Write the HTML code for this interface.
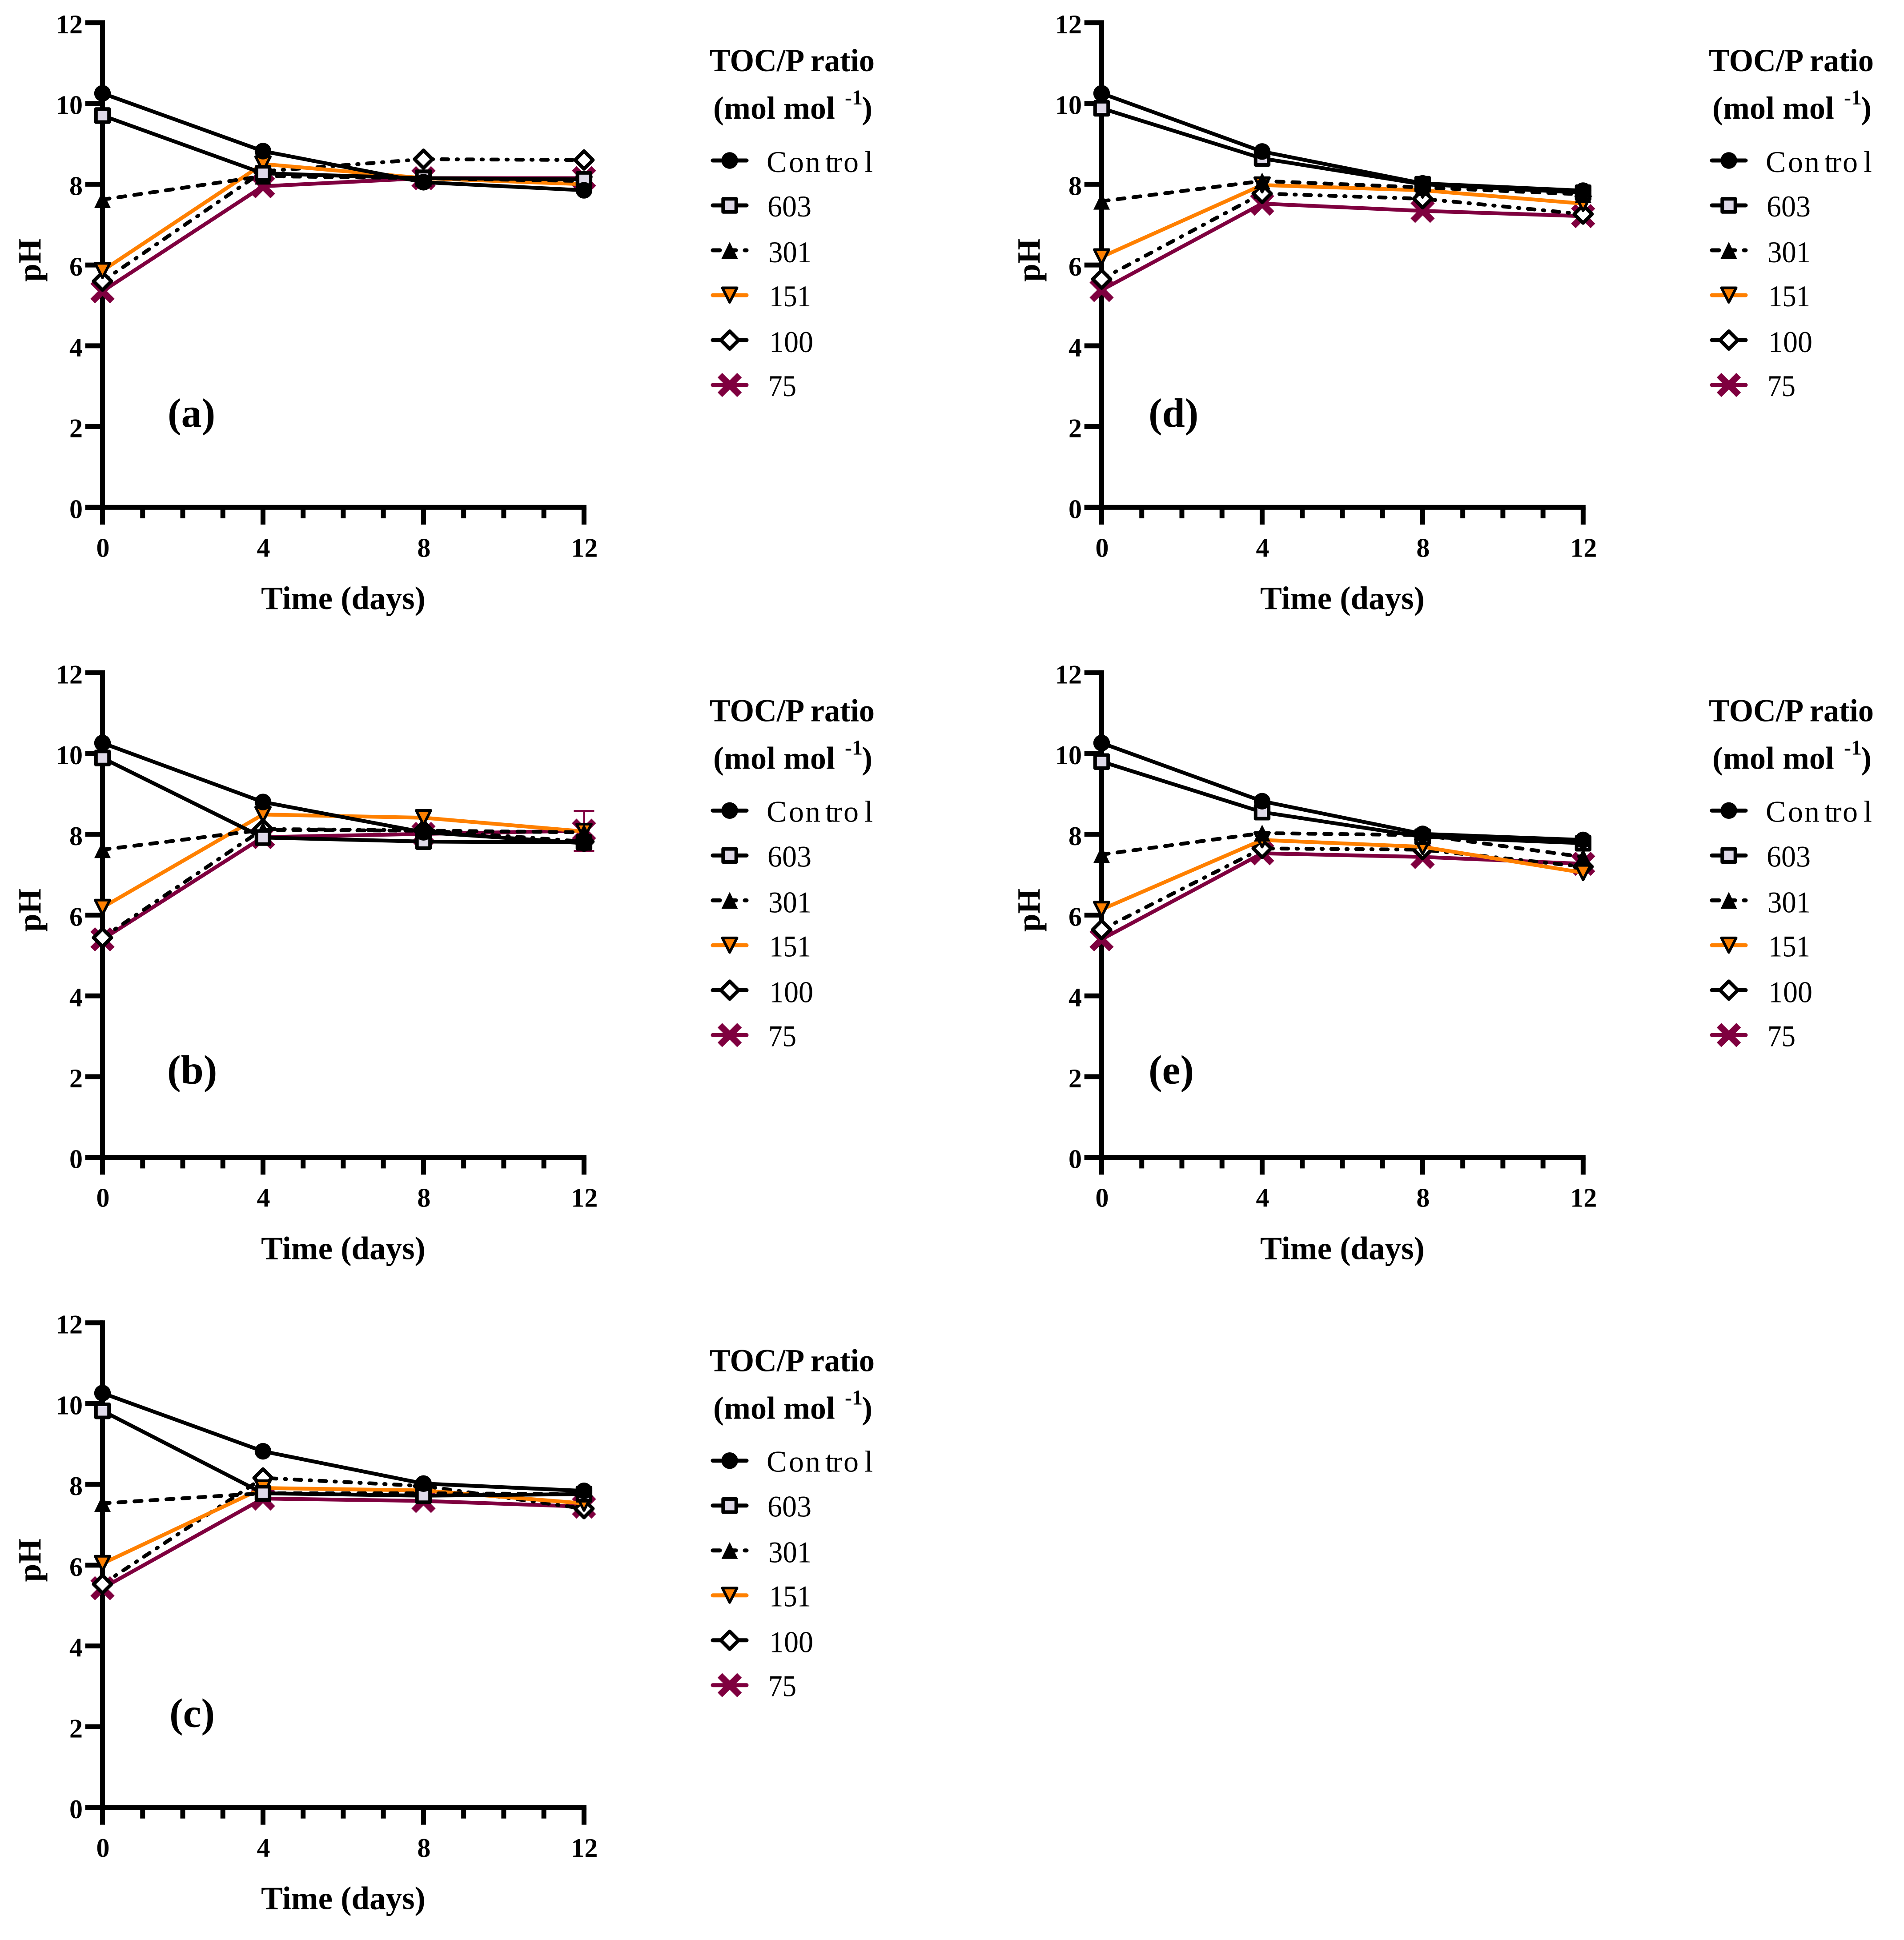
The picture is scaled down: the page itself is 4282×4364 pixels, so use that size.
<!DOCTYPE html>
<html lang="en">
<head>
<meta charset="utf-8">
<title>pH over time by TOC/P ratio</title>
<style>
html,body{margin:0;padding:0;background:#fff;}
svg{display:block;}
text{font-family:"Liberation Serif",serif;fill:#000;}
.tick{font-size:60px;font-weight:bold;}
.axt{font-size:73px;font-weight:bold;}
.pl{font-size:92px;font-weight:bold;}
.lt{font-size:72px;font-weight:bold;}
.ls{font-size:48px;font-weight:bold;}
.le{font-size:68px;}
</style>
</head>
<body>
<svg id="figure" xmlns="http://www.w3.org/2000/svg" width="4282" height="4364" viewBox="0 0 4282 4364">
<rect x="0" y="0" width="4282" height="4364" fill="#fff"/>

<g id="panel-a" transform="translate(0,0)">
  <text class="axt" text-anchor="middle" transform="translate(91,585) rotate(-90)">pH</text>
  <text class="axt" text-anchor="middle" x="772" y="1370">Time (days)</text>
  <text class="pl" x="377" y="960">(a)</text>
  <text class="lt" x="1596" y="160" textLength="371" lengthAdjust="spacingAndGlyphs">TOC/P ratio</text>
  <text class="lt" x="1604" y="267">(mol mol <tspan class="ls" x="1900" y="235">-1</tspan><tspan x="1938" y="267">)</tspan></text>
  <text class="le" x="1724 1774 1811 1856 1872 1897 1944" y="387">Control</text>
  <text class="le" x="1726" y="487" textLength="99" lengthAdjust="spacingAndGlyphs">603</text>
  <text class="le" x="1728" y="590" textLength="97" lengthAdjust="spacingAndGlyphs">301</text>
  <text class="le" x="1730" y="689" textLength="94" lengthAdjust="spacingAndGlyphs">151</text>
  <text class="le" x="1730" y="792" textLength="99" lengthAdjust="spacingAndGlyphs">100</text>
  <text class="le" x="1728" y="891" textLength="63" lengthAdjust="spacingAndGlyphs">75</text>
</g>

<g id="panel-b" transform="translate(0,1462.35)">
  <text class="axt" text-anchor="middle" transform="translate(91,585) rotate(-90)">pH</text>
  <text class="axt" text-anchor="middle" x="772" y="1370">Time (days)</text>
  <text class="pl" x="376" y="975">(b)</text>
  <text class="lt" x="1596" y="160" textLength="371" lengthAdjust="spacingAndGlyphs">TOC/P ratio</text>
  <text class="lt" x="1604" y="267">(mol mol <tspan class="ls" x="1900" y="235">-1</tspan><tspan x="1938" y="267">)</tspan></text>
  <text class="le" x="1724 1774 1811 1856 1872 1897 1944" y="386">Control</text>
  <text class="le" x="1726" y="487" textLength="99" lengthAdjust="spacingAndGlyphs">603</text>
  <text class="le" x="1728" y="590" textLength="97" lengthAdjust="spacingAndGlyphs">301</text>
  <text class="le" x="1730" y="689" textLength="94" lengthAdjust="spacingAndGlyphs">151</text>
  <text class="le" x="1730" y="792" textLength="99" lengthAdjust="spacingAndGlyphs">100</text>
  <text class="le" x="1728" y="891" textLength="63" lengthAdjust="spacingAndGlyphs">75</text>
</g>

<g id="panel-c" transform="translate(0,2924.7)">
  <text class="axt" text-anchor="middle" transform="translate(91,585) rotate(-90)">pH</text>
  <text class="axt" text-anchor="middle" x="772" y="1370">Time (days)</text>
  <text class="pl" x="381" y="960">(c)</text>
  <text class="lt" x="1596" y="160" textLength="371" lengthAdjust="spacingAndGlyphs">TOC/P ratio</text>
  <text class="lt" x="1604" y="267">(mol mol <tspan class="ls" x="1900" y="235">-1</tspan><tspan x="1938" y="267">)</tspan></text>
  <text class="le" x="1724 1774 1811 1856 1872 1897 1944" y="386">Control</text>
  <text class="le" x="1726" y="487" textLength="99" lengthAdjust="spacingAndGlyphs">603</text>
  <text class="le" x="1728" y="590" textLength="97" lengthAdjust="spacingAndGlyphs">301</text>
  <text class="le" x="1730" y="689" textLength="94" lengthAdjust="spacingAndGlyphs">151</text>
  <text class="le" x="1730" y="792" textLength="99" lengthAdjust="spacingAndGlyphs">100</text>
  <text class="le" x="1728" y="891" textLength="63" lengthAdjust="spacingAndGlyphs">75</text>
</g>

<g id="panel-d" transform="translate(2247,0)">
  <text class="axt" text-anchor="middle" transform="translate(91,585) rotate(-90)">pH</text>
  <text class="axt" text-anchor="middle" x="772" y="1370">Time (days)</text>
  <text class="pl" x="336" y="960">(d)</text>
  <text class="lt" x="1596" y="160" textLength="371" lengthAdjust="spacingAndGlyphs">TOC/P ratio</text>
  <text class="lt" x="1604" y="267">(mol mol <tspan class="ls" x="1900" y="235">-1</tspan><tspan x="1938" y="267">)</tspan></text>
  <text class="le" x="1724 1774 1811 1856 1872 1897 1944" y="387">Control</text>
  <text class="le" x="1726" y="487" textLength="99" lengthAdjust="spacingAndGlyphs">603</text>
  <text class="le" x="1728" y="590" textLength="97" lengthAdjust="spacingAndGlyphs">301</text>
  <text class="le" x="1730" y="689" textLength="94" lengthAdjust="spacingAndGlyphs">151</text>
  <text class="le" x="1730" y="792" textLength="99" lengthAdjust="spacingAndGlyphs">100</text>
  <text class="le" x="1728" y="891" textLength="63" lengthAdjust="spacingAndGlyphs">75</text>
</g>

<g id="panel-e" transform="translate(2247,1462.35)">
  <text class="axt" text-anchor="middle" transform="translate(91,585) rotate(-90)">pH</text>
  <text class="axt" text-anchor="middle" x="772" y="1370">Time (days)</text>
  <text class="pl" x="336" y="975">(e)</text>
  <text class="lt" x="1596" y="160" textLength="371" lengthAdjust="spacingAndGlyphs">TOC/P ratio</text>
  <text class="lt" x="1604" y="267">(mol mol <tspan class="ls" x="1900" y="235">-1</tspan><tspan x="1938" y="267">)</tspan></text>
  <text class="le" x="1724 1774 1811 1856 1872 1897 1944" y="386">Control</text>
  <text class="le" x="1726" y="487" textLength="99" lengthAdjust="spacingAndGlyphs">603</text>
  <text class="le" x="1728" y="590" textLength="97" lengthAdjust="spacingAndGlyphs">301</text>
  <text class="le" x="1730" y="689" textLength="94" lengthAdjust="spacingAndGlyphs">151</text>
  <text class="le" x="1730" y="792" textLength="99" lengthAdjust="spacingAndGlyphs">100</text>
  <text class="le" x="1728" y="891" textLength="63" lengthAdjust="spacingAndGlyphs">75</text>
</g>
</svg>

<script>
// ---- categories and tick labels ----
const days = [0, 4, 8, 12];
const xTickLabels = ["0", "4", "8", "12"];
const xMinorDays = [1, 2, 3, 5, 6, 7, 9, 10, 11];
const yTickValues = [0, 2, 4, 6, 8, 10, 12];
const yTickLabels = ["0", "2", "4", "6", "8", "10", "12"];

// ---- panel (a) ----
const aControl = [10.25, 8.82, 8.05, 7.85];
const a603 = [9.7, 8.27, 8.15, 8.12];
const a301 = [7.62, 8.2, 8.15, 8.08];
const a151 = [5.86, 8.5, 8.15, 8.0];
const a100 = [5.6, 8.32, 8.62, 8.6];
const a75 = [5.35, 7.95, 8.15, 8.15];

// ---- panel (b) ----
const bControl = [10.26, 8.8, 8.05, 7.78];
const b603 = [9.89, 7.92, 7.82, 7.8];
const b301 = [7.62, 8.11, 8.09, 8.05];
const b151 = [6.19, 8.49, 8.41, 8.07];
const b100 = [5.44, 8.13, 8.1, 7.82];
const b75 = [5.4, 7.93, 8.01, 8.09];
const b75ErrorAt12 = [8.58, 7.59];

// ---- panel (c) ----
const cControl = [10.26, 8.82, 8.02, 7.84];
const c603 = [9.82, 7.78, 7.72, 7.76];
const c301 = [7.53, 7.78, 7.78, 7.76];
const c151 = [6.04, 7.91, 7.85, 7.53];
const c100 = [5.53, 8.16, 7.96, 7.4];
const c75 = [5.43, 7.65, 7.59, 7.45];

// ---- panel (d) ----
const dControl = [10.25, 8.81, 8.02, 7.84];
const d603 = [9.88, 8.64, 8.0, 7.79];
const d301 = [7.58, 8.08, 7.92, 7.75];
const d151 = [6.2, 7.98, 7.85, 7.52];
const d100 = [5.65, 7.77, 7.64, 7.26];
const d75 = [5.38, 7.52, 7.34, 7.21];

// ---- panel (e) ----
const eControl = [10.26, 8.82, 8.01, 7.86];
const e603 = [9.8, 8.55, 7.94, 7.78];
const e301 = [7.5, 8.03, 7.98, 7.44];
const e151 = [6.14, 7.86, 7.69, 7.05];
const e100 = [5.64, 7.65, 7.62, 7.2];
const e75 = [5.4, 7.53, 7.44, 7.27];

const legendNames = ["control", "603", "301", "151", "100", "75"];

// ---- axis functions (panel-local pixels) ----
function xAxis(day) { return 230.5 + day * 90.24; }
function yAxis(ph) { return 1141.3 - ph * 90.86; }

const NS = "http://www.w3.org/2000/svg";
const PURPLE = "#7F003F";
const ORANGE = "#FF8000";
const LAVENDER = "#DFD9E8";
const DASHED = "16 20";
const DASHDOT = "15 19 3 19";

function make(parent, tag, attrs) {
  const el = document.createElementNS(NS, tag);
  for (const k in attrs) el.setAttribute(k, attrs[k]);
  parent.appendChild(el);
  return el;
}

function styleOf(name) {
  if (name === "151") return { color: ORANGE, dash: null };
  if (name === "75") return { color: PURPLE, dash: null };
  if (name === "301") return { color: "#000", dash: DASHED };
  if (name === "100") return { color: "#000", dash: DASHDOT };
  return { color: "#000", dash: null };
}

function marker(parent, name, cx, cy) {
  let el;
  if (name === "control") {
    el = make(parent, "circle", { cx: cx, cy: cy, r: 18.7, fill: "#000" });
  } else if (name === "603") {
    el = make(parent, "rect", { x: cx - 14.7, y: cy - 14.7, width: 29.4, height: 29.4, fill: LAVENDER, stroke: "#000", "stroke-width": 8, "stroke-linejoin": "round" });
  } else if (name === "301") {
    el = make(parent, "polygon", { points: [cx, cy - 19, cx + 18.5, cy + 19, cx - 18.5, cy + 19].join(","), fill: "#000" });
  } else if (name === "151") {
    el = make(parent, "polygon", { points: [cx - 16.5, cy - 16.5, cx + 16.5, cy - 16.5, cx, cy + 16].join(","), fill: ORANGE, stroke: "#000", "stroke-width": 6, "stroke-linejoin": "round" });
  } else if (name === "100") {
    el = make(parent, "polygon", { points: [cx, cy - 20, cx + 20, cy, cx, cy + 20, cx - 20, cy].join(","), fill: "#fff", stroke: "#000", "stroke-width": 8, "stroke-linejoin": "round" });
  } else {
    const d = "M" + (cx - 22) + " " + (cy - 22) + "L" + (cx + 22) + " " + (cy + 22) + "M" + (cx - 22) + " " + (cy + 22) + "L" + (cx + 22) + " " + (cy - 22);
    el = make(parent, "path", { d: d, fill: "none", stroke: PURPLE, "stroke-width": 14.6 });
  }
  
  
  return el;
}

function drawAxes(root) {
  const axes = make(root, "g", {});
  
  

  const yLine = make(axes, "rect", { x: 225, y: yAxis(12) - 5.5, width: 11, height: yAxis(0) - yAxis(12) + 5.5, fill: "#000" });
  
  

  const xLine = make(axes, "rect", { x: 191.7, y: yAxis(0) - 5.5, width: xAxis(12) + 5.5 - 191.7, height: 11, fill: "#000" });
  
  

  yTickValues.forEach(function (v, i) {
    const t = make(axes, "rect", { x: 191.7, y: yAxis(v) - 5.5, width: 40, height: 11, fill: "#000" });
    
    
    const lab = make(axes, "text", { x: 186, y: yAxis(v) + 24, "text-anchor": "end", "class": "tick" });
    
    
    lab.textContent = yTickLabels[i];
  });

  days.forEach(function (d, i) {
    const t = make(axes, "rect", { x: xAxis(d) - 5.5, y: yAxis(0), width: 11, height: 38.7, fill: "#000" });
    
    
    const lab = make(axes, "text", { x: xAxis(d) + 1, y: yAxis(0) + 111, "text-anchor": "middle", "class": "tick" });
    
    
    lab.textContent = xTickLabels[i];
  });

  xMinorDays.forEach(function (d) {
    const t = make(axes, "rect", { x: xAxis(d) - 5.5, y: yAxis(0), width: 11, height: 24.7, fill: "#000" });
    
    
  });
}

function drawSeries(root, name, values) {
  const st = styleOf(name);
  const g = make(root, "g", {});
  
  
  const pts = values.map(function (v, i) { return xAxis(days[i]) + "," + yAxis(v); }).join(" ");
  const attrs = { points: pts, fill: "none", stroke: st.color, "stroke-width": 8.5, "stroke-linecap": "round", "stroke-linejoin": "round" };
  if (st.dash) attrs["stroke-dasharray"] = st.dash;
  const line = make(g, "polyline", attrs);
  
  
  return g;
}

function drawMarkers(root, name, values) {
  values.forEach(function (v, i) {
    marker(root, name, xAxis(days[i]), yAxis(v));
  });
}

function drawErrorBar(root, day, range) {
  const g = make(root, "g", { stroke: PURPLE, "stroke-width": 4, fill: "none" });
  
  
  const x = xAxis(day);
  make(g, "line", { x1: x, x2: x, y1: yAxis(range[0]), y2: yAxis(range[1]) });
  make(g, "line", { x1: x - 23, x2: x + 23, y1: yAxis(range[0]), y2: yAxis(range[0]) });
  make(g, "line", { x1: x - 23, x2: x + 23, y1: yAxis(range[1]), y2: yAxis(range[1]) });
}

function drawLegendSymbols(root) {
  const rowY = [361, 462, 563, 664, 765, 866];
  legendNames.forEach(function (name, i) {
    const st = styleOf(name);
    const g = make(root, "g", {});
    
    
    const attrs = { x1: 1603, x2: 1679, y1: rowY[i], y2: rowY[i], stroke: st.color, "stroke-width": 9, "stroke-linecap": "round" };
    if (name === "301") attrs["stroke-dasharray"] = st.dash;
    const l = make(g, "line", attrs);
    
    
    marker(g, name, 1641, rowY[i]);
  });
}

function drawPanel(id, control, s603, s301, s151, s100, s75, error) {
  const root = document.getElementById(id);
  drawAxes(root);
  // back to front: 75, 100, 151, 301, 603, control
  const order = [["75", s75], ["100", s100], ["151", s151], ["301", s301], ["603", s603], ["control", control]];
  order.forEach(function (o) {
    const g = drawSeries(root, o[0], o[1]);
    if (o[0] === "75" && error) drawErrorBar(g, days[3], error);
    drawMarkers(g, o[0], o[1]);
  });
  drawLegendSymbols(root);
}

drawPanel("panel-a", aControl, a603, a301, a151, a100, a75, null);
drawPanel("panel-b", bControl, b603, b301, b151, b100, b75, b75ErrorAt12);
drawPanel("panel-c", cControl, c603, c301, c151, c100, c75, null);
drawPanel("panel-d", dControl, d603, d301, d151, d100, d75, null);
drawPanel("panel-e", eControl, e603, e301, e151, e100, e75, null);
</script>
</body>
</html>
